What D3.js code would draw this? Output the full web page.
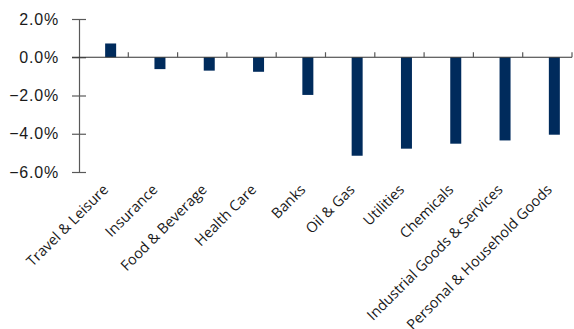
<!DOCTYPE html>
<html>
<head>
<meta charset="utf-8">
<script src="https://cdn.jsdelivr.net/npm/d3@7"></script>
<style>
  body { margin: 0; background: #fff; }
  svg { display: block; font-family: "Open Sans", "Noto Sans", sans-serif; }
</style>
</head>
<body>
<div id="chart"></div>
<script>
// Sector returns (%)
const sectors = ['Travel & Leisure', 'Insurance', 'Food & Beverage', 'Health Care', 'Banks',
  'Oil & Gas', 'Utilities', 'Chemicals', 'Industrial Goods & Services', 'Personal & Household Goods'];
const returns = [0.72, -0.62, -0.70, -0.76, -1.97, -5.15, -4.78, -4.52, -4.35, -4.05];
const yTicks = [2, 0, -2, -4, -6];

const width = 574, height = 329;
const margin = { top: 19, right: 2, bottom: 157, left: 79 };

const svg = d3.select('#chart').append('svg')
  .attr('width', width)
  .attr('height', height);

const xScale = d3.scaleBand()
  .domain(sectors)
  .range([margin.left, width - margin.right])
  .padding(0);

const yScale = d3.scaleLinear()
  .domain([-6, 2])
  .range([height - margin.bottom, margin.top]);

const axisColor = '#595959';

// Y axis
const yAxis = d3.axisLeft(yScale)
  .tickValues(yTicks)
  .tickSize(0)
  .tickPadding(20)
  .tickFormat(d => d3.format('.1f')(d) + '%');

const yAxisGroup = svg.append('g')
  .attr('transform', `translate(${margin.left},0)`)
  .call(yAxis);
yAxisGroup.select('.domain').attr('stroke', axisColor).attr('stroke-width', 1.2);
yAxisGroup.selectAll('.tick text')
  .attr('fill', '#1a1a1a')
  .style('font-size', '16px')
  .style('letter-spacing', '0.8px');
yAxisGroup.selectAll('.tick').append('line')
  .attr('x1', -7).attr('x2', 7)
  .attr('stroke', axisColor).attr('stroke-width', 1.2);

// Bars (second slot of each category group)
const barW = 11;
svg.selectAll('.bar')
  .data(sectors)
  .join('rect')
  .attr('class', 'bar')
  .attr('x', d => xScale(d) + xScale.bandwidth() / 2 + 1.5)
  .attr('width', barW)
  .attr('y', (d, i) => yScale(Math.max(0, returns[i])))
  .attr('height', (d, i) => Math.abs(yScale(returns[i]) - yScale(0)))
  .attr('fill', '#002b5c');

// Zero line with category ticks
const zeroY = yScale(0);
svg.append('line')
  .attr('x1', margin.left - 7).attr('x2', width - margin.right)
  .attr('y1', zeroY).attr('y2', zeroY)
  .attr('stroke', '#333').attr('stroke-width', 1.2);

svg.selectAll('.cat-tick')
  .data(sectors)
  .join('line')
  .attr('class', 'cat-tick')
  .attr('x1', d => xScale(d) + xScale.bandwidth())
  .attr('x2', d => xScale(d) + xScale.bandwidth())
  .attr('y1', zeroY - 5).attr('y2', zeroY)
  .attr('stroke', axisColor).attr('stroke-width', 1.2);

// Category labels (rotated)
const labelY = height - margin.bottom + 15;
svg.selectAll('.cat-label')
  .data(sectors)
  .join('text')
  .attr('class', 'cat-label')
  .attr('transform', d => `translate(${xScale(d) + xScale.bandwidth() / 2 + 2},${labelY}) rotate(-45)`)
  .attr('text-anchor', 'end')
  .attr('dy', '0.35em')
  .attr('fill', '#1a1a1a')
  .style('font-size', '14.5px')
  .text(d => d);
</script>
</body>
</html>
